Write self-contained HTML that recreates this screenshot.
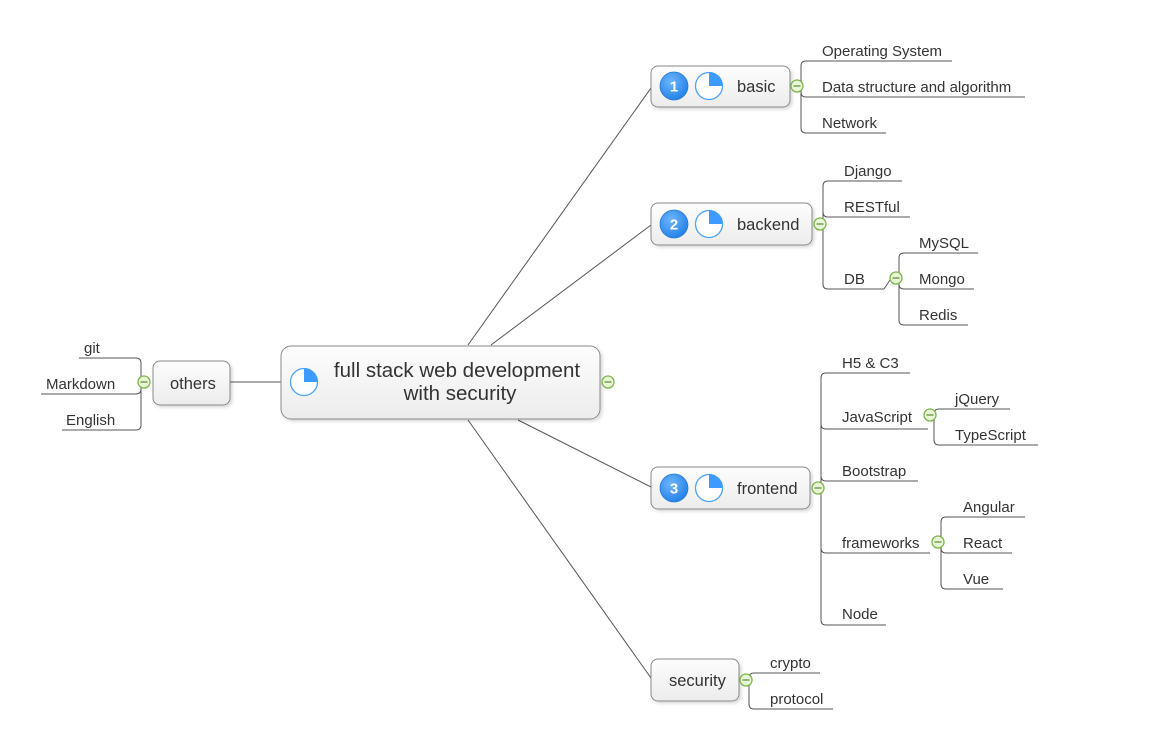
<!DOCTYPE html>
<html><head><meta charset="utf-8"><style>
html,body{margin:0;padding:0;background:#fff;}
svg{display:block;font-family:"Liberation Sans",Arial,sans-serif;}
</style></head><body>
<svg width="1162" height="742" viewBox="0 0 1162 742" xmlns="http://www.w3.org/2000/svg">
<defs>
<linearGradient id="g" x1="0" y1="0" x2="0" y2="1"><stop offset="0" stop-color="#fdfdfd"/><stop offset="1" stop-color="#ececec"/></linearGradient>
<radialGradient id="b" cx="0.4" cy="0.35" r="0.7"><stop offset="0" stop-color="#6fb6ff"/><stop offset="1" stop-color="#1f7fe6"/></radialGradient>
<filter id="s" x="-10%" y="-10%" width="125%" height="140%"><feDropShadow dx="2" dy="2" stdDeviation="1.5" flood-color="#000" flood-opacity="0.15"/></filter>
<g id="pie"><circle r="13.5" fill="#fff" stroke="#4aa3ff" stroke-width="1.3"/><path d="M0,0 L0,-13.5 A13.5,13.5 0 0 1 13.5,0 Z" fill="#3d9bff"/></g>
<g id="minus"><circle r="6" fill="#e8f5d8" stroke="#7ab648" stroke-width="1.3"/><line x1="-3.5" y1="0" x2="3.5" y2="0" stroke="#5a8a30" stroke-width="1.2"/></g>
</defs>
<g stroke="#555" stroke-width="1" fill="none">
<line x1="468" y1="345" x2="651" y2="88"/>
<line x1="491" y1="345" x2="651" y2="225"/>
<line x1="518" y1="420" x2="651" y2="487"/>
<line x1="468" y1="420" x2="651" y2="678"/>
<line x1="230" y1="382" x2="281" y2="382"/>
<line x1="790" y1="86" x2="801" y2="86"/>
<path d="M801,66 Q801,61 806,61 L952,61"/><path d="M801,92 Q801,97 806,97 L1025,97"/><path d="M801,128 Q801,133 806,133 L886,133"/><line x1="801" y1="66" x2="801" y2="128"/>
<path d="M823,186 Q823,181 828,181 L902,181"/><path d="M823,212 Q823,217 828,217 L910,217"/><path d="M823,284 Q823,289 828,289 L884,289"/><line x1="823" y1="186" x2="823" y2="284"/>
<line x1="884" y1="289" x2="890" y2="280"/>
<path d="M899,258 Q899,253 904,253 L978,253"/><path d="M899,284 Q899,289 904,289 L974,289"/><path d="M899,320 Q899,325 904,325 L968,325"/><line x1="899" y1="258" x2="899" y2="320"/>
<path d="M821,378 Q821,373 826,373 L910,373"/><path d="M821,424 Q821,429 826,429 L928,429"/><path d="M821,476 Q821,481 826,481 L918,481"/><path d="M821,548 Q821,553 826,553 L930,553"/><path d="M821,620 Q821,625 826,625 L886,625"/><line x1="821" y1="378" x2="821" y2="620"/>
<path d="M934,414 Q934,409 939,409 L1010,409"/><path d="M934,440 Q934,445 939,445 L1038,445"/><line x1="934" y1="414" x2="934" y2="440"/>
<path d="M941,522 Q941,517 946,517 L1025,517"/><path d="M941,548 Q941,553 946,553 L1012,553"/><path d="M941,584 Q941,589 946,589 L1003,589"/><line x1="941" y1="522" x2="941" y2="584"/>
<path d="M749,678 Q749,673 754,673 L820,673"/><path d="M749,704 Q749,709 754,709 L833,709"/><line x1="749" y1="678" x2="749" y2="704"/>
<path d="M141,363 Q141,358 136,358 L79,358"/><path d="M141,389 Q141,394 136,394 L41,394"/><path d="M141,425 Q141,430 136,430 L62,430"/><line x1="141" y1="363" x2="141" y2="425"/>
</g>
<g fill="url(#g)" stroke="#8a8a8a" stroke-width="1" filter="url(#s)">
<rect x="281" y="346" width="319" height="73" rx="10"/>
<rect x="651" y="66" width="139" height="41" rx="7"/>
<rect x="651" y="203" width="161" height="42" rx="7"/>
<rect x="651" y="467" width="159" height="42" rx="7"/>
<rect x="651" y="659" width="88" height="42" rx="7"/>
<rect x="153" y="361" width="77" height="44" rx="7"/>
</g>
<use href="#pie" x="304" y="382"/>
<use href="#pie" x="709" y="86"/><use href="#pie" x="709" y="224"/><use href="#pie" x="709" y="488"/>
<g fill="url(#b)" stroke="#2a78d0" stroke-width="0.8"><circle cx="674" cy="86" r="14"/><circle cx="674" cy="224" r="14"/><circle cx="674" cy="488" r="14"/></g>
<g fill="#fff" font-size="15" font-weight="bold" text-anchor="middle"><text x="674" y="91.5">1</text><text x="674" y="229.5">2</text><text x="674" y="493.5">3</text></g>
<use href="#minus" x="608" y="382"/><use href="#minus" x="797" y="86"/><use href="#minus" x="820" y="224"/><use href="#minus" x="896" y="278"/><use href="#minus" x="818" y="488"/><use href="#minus" x="930" y="415"/><use href="#minus" x="938" y="542"/><use href="#minus" x="746" y="680"/><use href="#minus" x="144" y="382"/>
<g fill="#333">
<text x="457" y="377" font-size="20.5" text-anchor="middle">full stack web development</text>
<text x="460" y="400" font-size="20.5" text-anchor="middle">with security</text>
<g font-size="16.5"><text x="737" y="92">basic</text><text x="737" y="230">backend</text><text x="737" y="494">frontend</text><text x="669" y="686">security</text><text x="170" y="389">others</text></g>
<g font-size="15">
<text x="822" y="56">Operating System</text><text x="822" y="92">Data structure and algorithm</text><text x="822" y="128">Network</text>
<text x="844" y="176">Django</text><text x="844" y="212">RESTful</text><text x="844" y="284">DB</text>
<text x="919" y="248">MySQL</text><text x="919" y="284">Mongo</text><text x="919" y="320">Redis</text>
<text x="842" y="368">H5 &amp; C3</text><text x="842" y="422">JavaScript</text><text x="842" y="476">Bootstrap</text><text x="842" y="548">frameworks</text><text x="842" y="619">Node</text>
<text x="955" y="404">jQuery</text><text x="955" y="440">TypeScript</text>
<text x="963" y="512">Angular</text><text x="963" y="548">React</text><text x="963" y="584">Vue</text>
<text x="770" y="668">crypto</text><text x="770" y="704">protocol</text>
<text x="84" y="353">git</text><text x="46" y="389">Markdown</text><text x="66" y="425">English</text>
</g></g>
</svg>
</body></html>
